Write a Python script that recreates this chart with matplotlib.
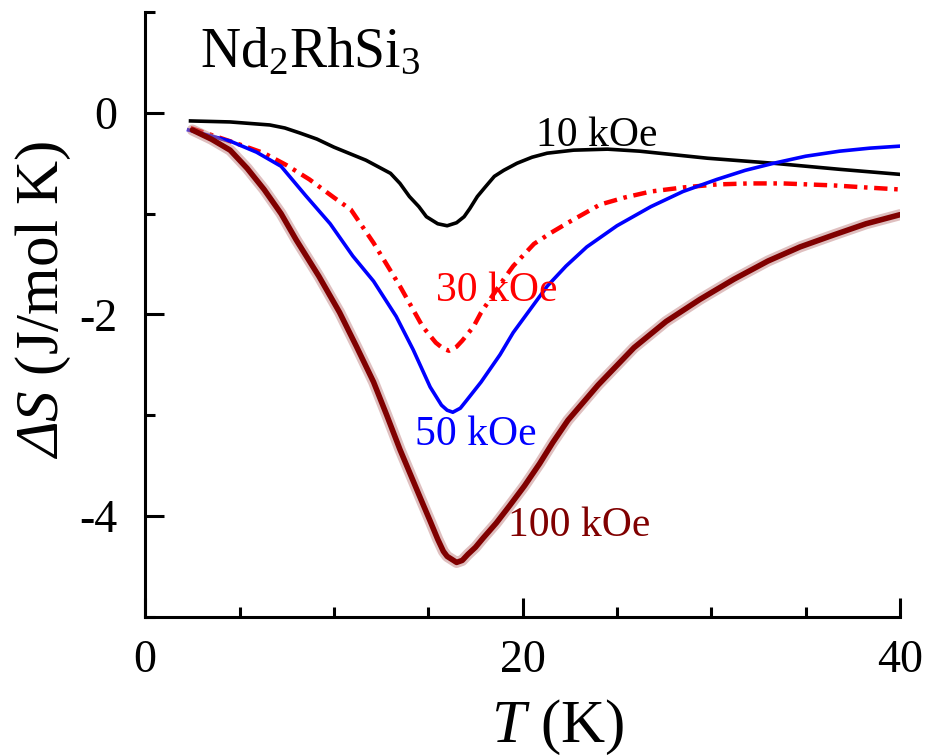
import matplotlib
matplotlib.use('Agg')
import matplotlib.pyplot as plt
from matplotlib.ticker import MultipleLocator

plt.rcParams['font.family'] = 'Liberation Serif'
plt.rcParams['mathtext.fontset'] = 'custom'
plt.rcParams['mathtext.rm'] = 'Liberation Serif'
plt.rcParams['mathtext.it'] = 'Liberation Serif:italic'
plt.rcParams['axes.unicode_minus'] = False

# entropy change vs temperature
t10 = [2.4, 4.5, 6.6, 7.4, 8.2, 9.1, 10.0, 11.7, 13.0, 13.5, 14.0, 14.5, 14.9, 15.5, 16.0,
       16.5, 16.9, 17.2, 17.6, 18.0, 18.5, 19.0, 19.7, 20.5, 21.3, 22.7, 24.5, 26.2, 29.8,
       33.3, 36.8, 40.0]
s10 = [-0.08, -0.09, -0.12, -0.15, -0.20, -0.26, -0.34, -0.47, -0.60, -0.70, -0.83, -0.93,
       -1.03, -1.10, -1.12, -1.09, -1.03, -0.95, -0.83, -0.74, -0.63, -0.57, -0.50, -0.44,
       -0.40, -0.37, -0.36, -0.38, -0.45, -0.50, -0.56, -0.61]

t30 = [2.4, 4.0, 5.1, 6.3, 7.5, 8.7, 10.0, 10.9, 12.1, 13.5, 14.7, 15.4, 15.8, 16.1, 16.5,
       16.8, 17.4, 17.8, 19.0, 19.5, 20.6, 21.5, 22.4, 24.1, 25.4, 26.8, 28.5, 30.3, 32.0,
       33.8, 36.5, 38.2, 40.0]
s30 = [-0.15, -0.25, -0.32, -0.40, -0.52, -0.66, -0.84, -0.96, -1.29, -1.72, -2.12, -2.28,
       -2.34, -2.36, -2.32, -2.26, -2.12, -1.98, -1.65, -1.52, -1.30, -1.19, -1.09, -0.91,
       -0.84, -0.78, -0.74, -0.71, -0.70, -0.70, -0.72, -0.74, -0.76]

t50 = [2.3, 4.5, 5.9, 7.2, 8.5, 9.8, 11.0, 12.1, 13.3, 14.2, 15.1, 15.7, 16.0, 16.3, 16.7,
       17.0, 17.8, 18.8, 19.5, 21.3, 22.3, 23.4, 25.0, 26.8, 28.5, 30.3, 31.8, 33.3, 35.0,
       36.8, 38.4, 40.0]
s50 = [-0.17, -0.28, -0.39, -0.53, -0.82, -1.10, -1.42, -1.67, -2.02, -2.35, -2.72, -2.90,
       -2.95, -2.97, -2.93, -2.86, -2.67, -2.40, -2.18, -1.72, -1.52, -1.33, -1.12, -0.93,
       -0.78, -0.66, -0.57, -0.50, -0.43, -0.38, -0.35, -0.33]

t100 = [2.5, 3.5, 4.5, 5.4, 6.3, 7.2, 8.0, 9.2, 10.3, 11.2, 12.1, 12.8, 13.5, 14.6, 15.1,
        15.5, 15.8, 16.0, 16.5, 16.8, 17.1, 17.5, 17.9, 18.6, 19.3, 20.1, 20.9, 21.6, 22.4,
        24.0, 25.9, 27.6, 29.4, 31.2, 33.0, 34.7, 36.5, 38.2, 40.0]
s100 = [-0.17, -0.26, -0.37, -0.55, -0.76, -1.00, -1.26, -1.62, -1.98, -2.32, -2.67, -3.00,
        -3.34, -3.83, -4.05, -4.23, -4.35, -4.40, -4.46, -4.44, -4.38, -4.31, -4.22, -4.07,
        -3.90, -3.70, -3.48, -3.27, -3.05, -2.70, -2.33, -2.07, -1.85, -1.65, -1.47, -1.33,
        -1.21, -1.10, -1.01]

fig = plt.figure(figsize=(9.25, 7.55), dpi=100)
ax = fig.add_axes([0.157, 0.183, 0.816, 0.801])

ax.plot(t10, s10, color='black', lw=2.6)
ax.plot(t30, s30, color='#ff0000', lw=3.2, linestyle=(0, (3, 1.5, 0.8, 1.5)))
ax.plot(t50, s50, color='#0000ff', lw=2.6)
# thick fuzzy curve for 100 kOe
ax.plot(t100, s100, color='#c08080', lw=8, alpha=0.5, solid_capstyle='round')
ax.plot(t100, s100, color='#800000', lw=4, solid_capstyle='round')

ax.text(20.7, -0.33, '10 kOe', color='black', fontsize=30, va='baseline')
ax.text(15.4, -1.87, '30 kOe', color='#ff0000', fontsize=30, va='baseline')
ax.text(14.3, -3.30, '50 kOe', color='#0000ff', fontsize=30, va='baseline')
ax.text(19.2, -4.20, '100 kOe', color='#800000', fontsize=30, va='baseline')
ax.text(2.9, 0.455, r'Nd$_2$RhSi$_3$', fontsize=40, va='baseline')

ax.set_xlim(0, 40)
ax.set_ylim(-5, 1)
for side in ['top', 'right']:
    ax.spines[side].set_visible(False)
for side in ['left', 'bottom']:
    ax.spines[side].set_linewidth(2.2)

ax.xaxis.set_major_locator(MultipleLocator(20))
ax.xaxis.set_minor_locator(MultipleLocator(5))
ax.yaxis.set_major_locator(MultipleLocator(2))
ax.yaxis.set_minor_locator(MultipleLocator(1))
ax.tick_params(which='both', direction='in', width=2.2)
ax.tick_params(which='major', length=14, labelsize=33)
ax.tick_params(which='minor', length=7)
ax.tick_params(axis='x', pad=16)
ax.tick_params(axis='y', pad=20)

fig.text(0.603, 0.018, r'$\mathit{T}$ (K)', fontsize=44, ha='center', va='baseline')
fig.text(0.047, 0.603, '\u0394S $\\mathrm{(J/mol\\ K)}$', fontsize=44, fontstyle='italic',
         rotation=90, ha='center', va='center')

fig.savefig('out.png', dpi=100)
